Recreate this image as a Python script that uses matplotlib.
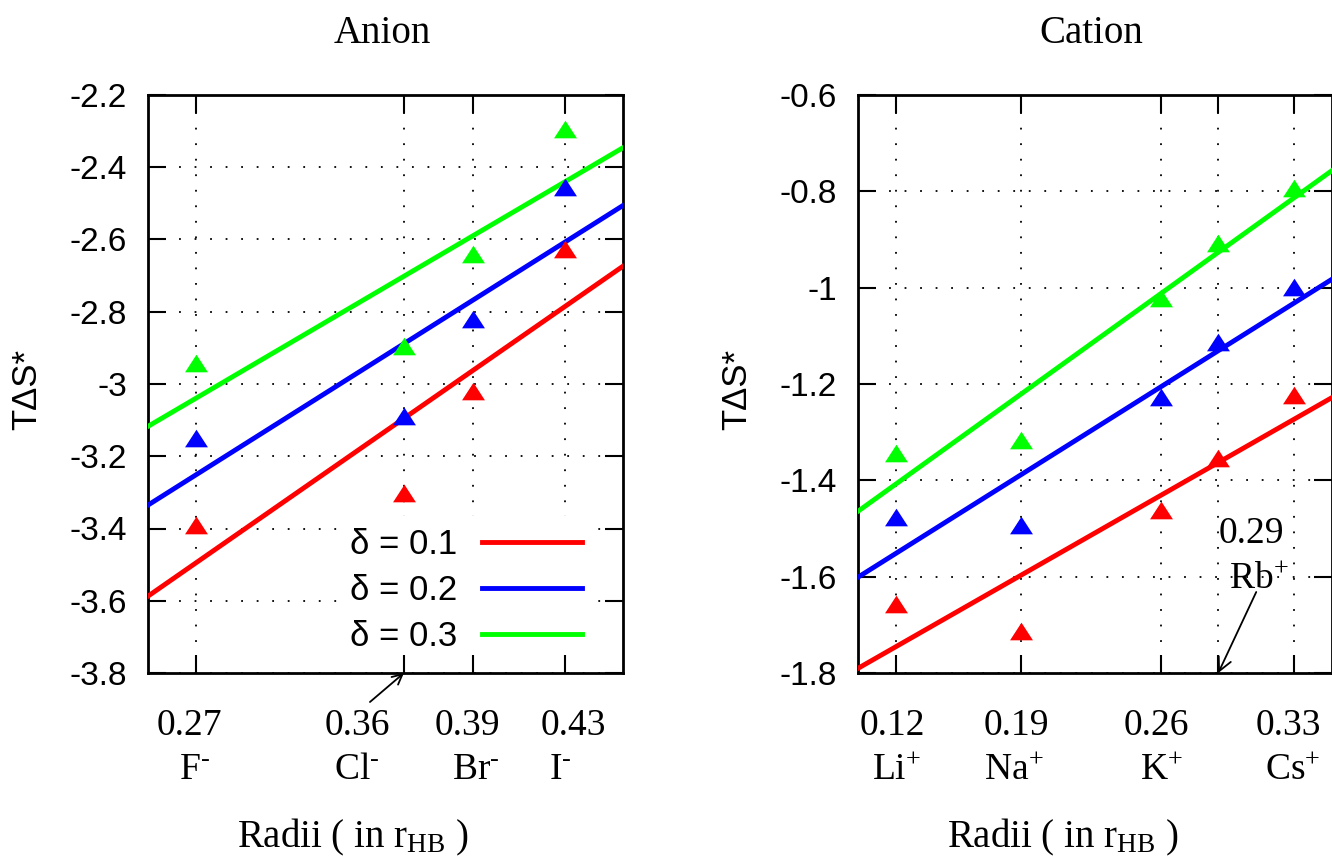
import numpy as np
import matplotlib.pyplot as plt
from matplotlib.path import Path
from matplotlib.ticker import MultipleLocator, FuncFormatter

plt.rcParams['axes.unicode_minus'] = False
plt.rcParams['mathtext.fontset'] = 'custom'
plt.rcParams['mathtext.rm'] = 'Liberation Serif'
plt.rcParams['mathtext.it'] = 'Liberation Serif:italic'
plt.rcParams['mathtext.bf'] = 'Liberation Serif:bold'

SANS = 'Liberation Sans'
SERIF = 'Liberation Serif'

# fit parameter delta and colours of the three series
deltas = [0.1, 0.2, 0.3]
colors = ['#ff0000', '#0000ff', '#00ff00']

# anions: radius (in r_HB) and T*dS* for delta = 0.1, 0.2, 0.3
anion_radii = [0.27, 0.36, 0.39, 0.43]
anion_nums = ['0.27', '0.36', '0.39', '0.43']
anion_ions = ['F$^{\\text{-}}$', 'Cl$^{\\text{-}}$', 'Br$^{\\text{-}}$', 'I$^{\\text{-}}$']
anion_d1 = [-3.389, -3.303, -3.019, -2.625]
anion_d2 = [-3.150, -3.089, -2.819, -2.455]
anion_d3 = [-2.942, -2.894, -2.639, -2.294]

# cations
cation_radii = [0.12, 0.186, 0.26, 0.29, 0.33]
cation_nums = ['0.12', '0.19', '0.26', '0.29', '0.33']
cation_ions = ['Li$^{+}$', 'Na$^{+}$', 'K$^{+}$', 'Rb$^{+}$', 'Cs$^{+}$']
cation_d1 = [-1.657, -1.713, -1.462, -1.354, -1.223]
cation_d2 = [-1.476, -1.493, -1.227, -1.113, -0.999]
cation_d3 = [-1.343, -1.316, -1.021, -0.907, -0.793]

# gnuplot-like flat triangle (wider than tall)
tri = Path([(-1, -0.77), (1, -0.77), (0, 0.77), (-1, -0.77)],
           [Path.MOVETO, Path.LINETO, Path.LINETO, Path.CLOSEPOLY])

PX = 0.72  # points per pixel at dpi 100
dots = (0, (1, 7.6))


def panel(ax, radii, series, xlim, ylim, title):
    ax.set_xlim(xlim)
    ax.set_ylim(ylim)
    for vals, c, d in zip(series, colors, deltas):
        k, b = np.polyfit(radii, vals, 1)
        xs = np.array(xlim)
        ax.plot(xs, k * xs + b, color=c, lw=3.5, label=f'δ = {d}', zorder=3)
        ax.plot(radii, vals, ls='none', marker=tri, ms=16.5, mew=0, color=c, zorder=4)

    ax.set_xticks(radii)
    ax.set_xticklabels([])
    ax.yaxis.set_major_locator(MultipleLocator(0.2))
    ax.yaxis.set_major_formatter(FuncFormatter(lambda v, p: f'{v:g}'))
    ax.tick_params(direction='in', length=13, width=1.5, top=True, right=True,
                   labelsize=24, pad=15)
    for lab in ax.get_yticklabels():
        lab.set_family(SANS)
    for s in ax.spines.values():
        s.set_linewidth(2)

    # dotted grid kept under the legend box
    for x in radii:
        ax.axvline(x, color='black', ls=dots, lw=1.3, zorder=0.8)
    for y in ax.get_yticks():
        ax.axhline(y, color='black', ls=dots, lw=1.3, zorder=0.8)

    ax.text(0.493, 1.09, title, transform=ax.transAxes, ha='center',
            va='baseline', fontsize=28, family=SERIF)
    ax.text(-0.255, 0.49, 'TΔS*', transform=ax.transAxes, rotation=90,
            ha='center', va='center', fontsize=25, family=SANS)
    ax.text(0.432, -0.301, 'Radii ( in r$_{\\mathrm{HB}}$ )',
            transform=ax.transAxes, ha='center', va='baseline',
            fontsize=28, family=SERIF)


def tick_label(ax, x, text, dx, dy):
    ax.annotate(text, xy=(x, 0), xycoords=('data', 'axes fraction'),
                xytext=(dx * PX, dy * PX), textcoords='offset points',
                ha='center', va='baseline', fontsize=27, family=SERIF,
                annotation_clip=False)


fig = plt.figure(figsize=(13.32, 8.57), dpi=100)
ax1 = fig.add_axes([148 / 1332, 1 - 673 / 857, 475 / 1332, 578 / 857])
ax2 = fig.add_axes([858 / 1332, 1 - 673 / 857, 474 / 1332, 578 / 857])

panel(ax1, anion_radii, [anion_d1, anion_d2, anion_d3], (0.249, 0.455),
      (-3.8, -2.2), 'Anion')
panel(ax2, cation_radii, [cation_d1, cation_d2, cation_d3], (0.10, 0.35),
      (-1.8, -0.6), 'Cation')

# anion labels below the axis (Cl shifted left, arrow to its tick)
num_dx = [-6.5, -47, -6, 8]
ion_dx = [-1.5, -47, 2.5, -5]
for x, n, ion, a, b in zip(anion_radii, anion_nums, anion_ions, num_dx, ion_dx):
    tick_label(ax1, x, n, a, -62)
    tick_label(ax1, x, ion, b, -106)
ax1.annotate('', xy=(anion_radii[1], 0), xycoords=('data', 'axes fraction'),
             xytext=(-34 * PX, -29 * PX), textcoords='offset points',
             arrowprops=dict(arrowstyle='->', lw=1.3, mutation_scale=18,
                             shrinkA=0, shrinkB=0), annotation_clip=False)

# cation labels; Rb+ sits inside the plot with an arrow down to its tick
num_dx = [-4, -5, -5, 33, -6]
ion_dx = [1, -7, 0, 41, -1]
for i, (x, n, ion) in enumerate(zip(cation_radii, cation_nums, cation_ions)):
    if ion.startswith('Rb'):
        tick_label(ax2, x, n, num_dx[i], 130)
        tick_label(ax2, x, ion, ion_dx[i], 85)
    else:
        tick_label(ax2, x, n, num_dx[i], -62)
        tick_label(ax2, x, ion, ion_dx[i], -106)
ax2.annotate('', xy=(cation_radii[3], 0), xycoords=('data', 'axes fraction'),
             xytext=(38 * PX, 81 * PX), textcoords='offset points',
             arrowprops=dict(arrowstyle='->', lw=1.3, mutation_scale=24,
                             shrinkA=0, shrinkB=0))

leg = ax1.legend(loc='lower right', bbox_to_anchor=(0.94, 0.014),
                 markerfirst=False, frameon=True, fancybox=False,
                 edgecolor='none', facecolor='white', framealpha=1,
                 prop={'family': SANS, 'size': 25}, handlelength=2.9,
                 handletextpad=0.7, labelspacing=0.37, borderpad=0.35,
                 borderaxespad=0)
leg.set_zorder(1)

fig.savefig('out.png', dpi=100)
